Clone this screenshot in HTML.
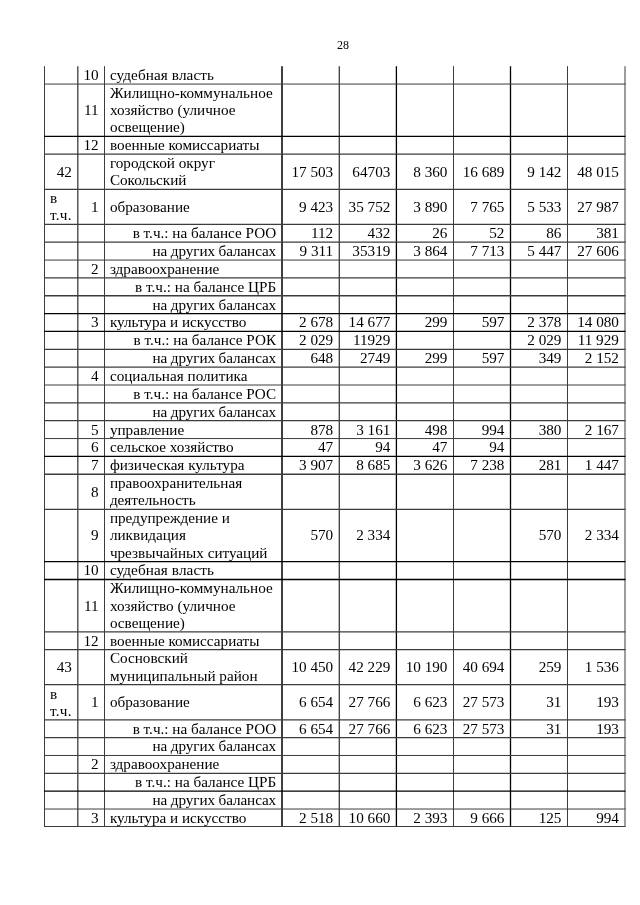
<!DOCTYPE html>
<html><head><meta charset="utf-8"><style>
html,body{margin:0;padding:0;background:#fff;}
body{width:640px;height:905px;position:relative;overflow:hidden;font-family:"Liberation Serif",serif;color:#000;}
#w{position:absolute;left:0;top:0;width:640px;height:905px;will-change:transform;}
.t{position:absolute;font-size:15.20px;line-height:17.225px;white-space:nowrap;}
.r{text-align:right;}
.a{letter-spacing:0.3px;}
svg{position:absolute;left:0;top:0;}
</style></head><body>
<div id="w">
<div class="t" style="left:337px;top:37.5px;font-size:12px;line-height:14px;">28</div>
<svg width="640" height="905" viewBox="0 0 640 905">
<line x1="44.5" y1="66.2" x2="44.5" y2="826.575" stroke="#3c3c3c" stroke-width="1.0"/>
<line x1="77.8" y1="66.2" x2="77.8" y2="826.575" stroke="#3c3c3c" stroke-width="1.3"/>
<line x1="104.5" y1="66.2" x2="104.5" y2="826.575" stroke="#3c3c3c" stroke-width="1.0"/>
<line x1="282.0" y1="66.2" x2="282.0" y2="826.575" stroke="#000" stroke-width="1.5"/>
<line x1="339.3" y1="66.2" x2="339.3" y2="826.575" stroke="#3c3c3c" stroke-width="1.3"/>
<line x1="396.4" y1="66.2" x2="396.4" y2="826.575" stroke="#000" stroke-width="1.3"/>
<line x1="453.5" y1="66.2" x2="453.5" y2="826.575" stroke="#3c3c3c" stroke-width="1.0"/>
<line x1="510.5" y1="66.2" x2="510.5" y2="826.575" stroke="#000" stroke-width="1.3"/>
<line x1="567.5" y1="66.2" x2="567.5" y2="826.575" stroke="#3c3c3c" stroke-width="1.0"/>
<line x1="625.0" y1="66.2" x2="625.0" y2="826.575" stroke="#3c3c3c" stroke-width="1.0"/>
<line x1="44.0" y1="84.050" x2="625.5" y2="84.050" stroke="#3c3c3c" stroke-width="1.0"/>
<line x1="44.0" y1="136.350" x2="625.5" y2="136.350" stroke="#000" stroke-width="1.3"/>
<line x1="44.0" y1="154.200" x2="625.5" y2="154.200" stroke="#3c3c3c" stroke-width="1.3"/>
<line x1="44.0" y1="189.275" x2="625.5" y2="189.275" stroke="#3c3c3c" stroke-width="1.3"/>
<line x1="44.0" y1="224.350" x2="625.5" y2="224.350" stroke="#3c3c3c" stroke-width="1.3"/>
<line x1="44.0" y1="242.200" x2="625.5" y2="242.200" stroke="#3c3c3c" stroke-width="1.3"/>
<line x1="44.0" y1="260.050" x2="625.5" y2="260.050" stroke="#3c3c3c" stroke-width="1.0"/>
<line x1="44.0" y1="277.900" x2="625.5" y2="277.900" stroke="#3c3c3c" stroke-width="1.3"/>
<line x1="44.0" y1="295.750" x2="625.5" y2="295.750" stroke="#3c3c3c" stroke-width="1.3"/>
<line x1="44.0" y1="313.600" x2="625.5" y2="313.600" stroke="#000" stroke-width="1.3"/>
<line x1="44.0" y1="331.450" x2="625.5" y2="331.450" stroke="#000" stroke-width="1.3"/>
<line x1="44.0" y1="349.300" x2="625.5" y2="349.300" stroke="#3c3c3c" stroke-width="1.3"/>
<line x1="44.0" y1="367.150" x2="625.5" y2="367.150" stroke="#3c3c3c" stroke-width="1.3"/>
<line x1="44.0" y1="385.000" x2="625.5" y2="385.000" stroke="#3c3c3c" stroke-width="1.0"/>
<line x1="44.0" y1="402.850" x2="625.5" y2="402.850" stroke="#3c3c3c" stroke-width="1.3"/>
<line x1="44.0" y1="420.700" x2="625.5" y2="420.700" stroke="#3c3c3c" stroke-width="1.3"/>
<line x1="44.0" y1="438.550" x2="625.5" y2="438.550" stroke="#3c3c3c" stroke-width="1.0"/>
<line x1="44.0" y1="456.400" x2="625.5" y2="456.400" stroke="#000" stroke-width="1.3"/>
<line x1="44.0" y1="474.250" x2="625.5" y2="474.250" stroke="#3c3c3c" stroke-width="1.3"/>
<line x1="44.0" y1="509.325" x2="625.5" y2="509.325" stroke="#3c3c3c" stroke-width="1.3"/>
<line x1="44.0" y1="561.625" x2="625.5" y2="561.625" stroke="#000" stroke-width="1.3"/>
<line x1="44.0" y1="579.475" x2="625.5" y2="579.475" stroke="#000" stroke-width="1.3"/>
<line x1="44.0" y1="631.775" x2="625.5" y2="631.775" stroke="#3c3c3c" stroke-width="1.3"/>
<line x1="44.0" y1="649.625" x2="625.5" y2="649.625" stroke="#3c3c3c" stroke-width="1.3"/>
<line x1="44.0" y1="684.700" x2="625.5" y2="684.700" stroke="#3c3c3c" stroke-width="1.3"/>
<line x1="44.0" y1="719.775" x2="625.5" y2="719.775" stroke="#3c3c3c" stroke-width="1.3"/>
<line x1="44.0" y1="737.625" x2="625.5" y2="737.625" stroke="#3c3c3c" stroke-width="1.3"/>
<line x1="44.0" y1="755.475" x2="625.5" y2="755.475" stroke="#3c3c3c" stroke-width="1.0"/>
<line x1="44.0" y1="773.325" x2="625.5" y2="773.325" stroke="#3c3c3c" stroke-width="1.3"/>
<line x1="44.0" y1="791.175" x2="625.5" y2="791.175" stroke="#000" stroke-width="1.3"/>
<line x1="44.0" y1="809.025" x2="625.5" y2="809.025" stroke="#3c3c3c" stroke-width="1.0"/>
<line x1="44.0" y1="826.500" x2="625.5" y2="826.500" stroke="#3c3c3c" stroke-width="1.0"/>
</svg>
<div class="t r" style="right:541.40px;top:66.01px">10</div>
<div class="t" style="left:109.90px;top:66.01px;letter-spacing:0.1px">судебная власть</div>
<div class="t r" style="right:541.40px;top:101.09px">11</div>
<div class="t" style="left:109.90px;top:83.86px">Жилищно-коммунальное<br>хозяйство (уличное<br>освещение)</div>
<div class="t r" style="right:541.40px;top:136.16px">12</div>
<div class="t" style="left:109.90px;top:136.16px">военные комиссариаты</div>
<div class="t r" style="right:568.10px;top:162.63px">42</div>
<div class="t" style="left:109.90px;top:154.01px">городской округ<br>Сокольский</div>
<div class="t r" style="right:306.80px;top:162.63px">17 503</div>
<div class="t r" style="right:249.70px;top:162.63px">64703</div>
<div class="t r" style="right:192.60px;top:162.63px">8 360</div>
<div class="t r" style="right:135.60px;top:162.63px">16 689</div>
<div class="t r" style="right:78.60px;top:162.63px">9 142</div>
<div class="t r" style="right:21.10px;top:162.63px">48 015</div>
<div class="t a" style="left:49.90px;top:189.09px">в<br>т.ч.</div>
<div class="t r" style="right:541.40px;top:197.70px">1</div>
<div class="t" style="left:109.90px;top:197.70px">образование</div>
<div class="t r" style="right:306.80px;top:197.70px">9 423</div>
<div class="t r" style="right:249.70px;top:197.70px">35 752</div>
<div class="t r" style="right:192.60px;top:197.70px">3 890</div>
<div class="t r" style="right:135.60px;top:197.70px">7 765</div>
<div class="t r" style="right:78.60px;top:197.70px">5 533</div>
<div class="t r" style="right:21.10px;top:197.70px">27 987</div>
<div class="t r" style="right:363.90px;top:224.16px">в т.ч.: на балансе РОО</div>
<div class="t r" style="right:306.80px;top:224.16px">112</div>
<div class="t r" style="right:249.70px;top:224.16px">432</div>
<div class="t r" style="right:192.60px;top:224.16px">26</div>
<div class="t r" style="right:135.60px;top:224.16px">52</div>
<div class="t r" style="right:78.60px;top:224.16px">86</div>
<div class="t r" style="right:21.10px;top:224.16px">381</div>
<div class="t r" style="right:363.90px;top:242.01px;letter-spacing:-0.1px">на других балансах</div>
<div class="t r" style="right:306.80px;top:242.01px">9 311</div>
<div class="t r" style="right:249.70px;top:242.01px">35319</div>
<div class="t r" style="right:192.60px;top:242.01px">3 864</div>
<div class="t r" style="right:135.60px;top:242.01px">7 713</div>
<div class="t r" style="right:78.60px;top:242.01px">5 447</div>
<div class="t r" style="right:21.10px;top:242.01px">27 606</div>
<div class="t r" style="right:541.40px;top:259.86px">2</div>
<div class="t" style="left:109.90px;top:259.86px">здравоохранение</div>
<div class="t r" style="right:363.90px;top:277.71px">в т.ч.: на балансе ЦРБ</div>
<div class="t r" style="right:363.90px;top:295.56px;letter-spacing:-0.1px">на других балансах</div>
<div class="t r" style="right:541.40px;top:313.41px">3</div>
<div class="t" style="left:109.90px;top:313.41px">культура и искусство</div>
<div class="t r" style="right:306.80px;top:313.41px">2 678</div>
<div class="t r" style="right:249.70px;top:313.41px">14 677</div>
<div class="t r" style="right:192.60px;top:313.41px">299</div>
<div class="t r" style="right:135.60px;top:313.41px">597</div>
<div class="t r" style="right:78.60px;top:313.41px">2 378</div>
<div class="t r" style="right:21.10px;top:313.41px">14 080</div>
<div class="t r" style="right:363.90px;top:331.26px">в т.ч.: на балансе РОК</div>
<div class="t r" style="right:306.80px;top:331.26px">2 029</div>
<div class="t r" style="right:249.70px;top:331.26px">11929</div>
<div class="t r" style="right:78.60px;top:331.26px">2 029</div>
<div class="t r" style="right:21.10px;top:331.26px">11 929</div>
<div class="t r" style="right:363.90px;top:349.11px;letter-spacing:-0.1px">на других балансах</div>
<div class="t r" style="right:306.80px;top:349.11px">648</div>
<div class="t r" style="right:249.70px;top:349.11px">2749</div>
<div class="t r" style="right:192.60px;top:349.11px">299</div>
<div class="t r" style="right:135.60px;top:349.11px">597</div>
<div class="t r" style="right:78.60px;top:349.11px">349</div>
<div class="t r" style="right:21.10px;top:349.11px">2 152</div>
<div class="t r" style="right:541.40px;top:366.96px">4</div>
<div class="t" style="left:109.90px;top:366.96px">социальная политика</div>
<div class="t r" style="right:363.90px;top:384.81px">в т.ч.: на балансе РОС</div>
<div class="t r" style="right:363.90px;top:402.66px;letter-spacing:-0.1px">на других балансах</div>
<div class="t r" style="right:541.40px;top:420.51px">5</div>
<div class="t" style="left:109.90px;top:420.51px">управление</div>
<div class="t r" style="right:306.80px;top:420.51px">878</div>
<div class="t r" style="right:249.70px;top:420.51px">3 161</div>
<div class="t r" style="right:192.60px;top:420.51px">498</div>
<div class="t r" style="right:135.60px;top:420.51px">994</div>
<div class="t r" style="right:78.60px;top:420.51px">380</div>
<div class="t r" style="right:21.10px;top:420.51px">2 167</div>
<div class="t r" style="right:541.40px;top:438.36px">6</div>
<div class="t" style="left:109.90px;top:438.36px">сельское хозяйство</div>
<div class="t r" style="right:306.80px;top:438.36px">47</div>
<div class="t r" style="right:249.70px;top:438.36px">94</div>
<div class="t r" style="right:192.60px;top:438.36px">47</div>
<div class="t r" style="right:135.60px;top:438.36px">94</div>
<div class="t r" style="right:541.40px;top:456.21px">7</div>
<div class="t" style="left:109.90px;top:456.21px">физическая культура</div>
<div class="t r" style="right:306.80px;top:456.21px">3 907</div>
<div class="t r" style="right:249.70px;top:456.21px">8 685</div>
<div class="t r" style="right:192.60px;top:456.21px">3 626</div>
<div class="t r" style="right:135.60px;top:456.21px">7 238</div>
<div class="t r" style="right:78.60px;top:456.21px">281</div>
<div class="t r" style="right:21.10px;top:456.21px">1 447</div>
<div class="t r" style="right:541.40px;top:482.68px">8</div>
<div class="t" style="left:109.90px;top:474.06px">правоохранительная<br>деятельность</div>
<div class="t r" style="right:541.40px;top:526.36px">9</div>
<div class="t" style="left:109.90px;top:509.14px">предупреждение и<br>ликвидация<br>чрезвычайных ситуаций</div>
<div class="t r" style="right:306.80px;top:526.36px">570</div>
<div class="t r" style="right:249.70px;top:526.36px">2 334</div>
<div class="t r" style="right:78.60px;top:526.36px">570</div>
<div class="t r" style="right:21.10px;top:526.36px">2 334</div>
<div class="t r" style="right:541.40px;top:561.44px">10</div>
<div class="t" style="left:109.90px;top:561.44px;letter-spacing:0.1px">судебная власть</div>
<div class="t r" style="right:541.40px;top:596.51px">11</div>
<div class="t" style="left:109.90px;top:579.29px">Жилищно-коммунальное<br>хозяйство (уличное<br>освещение)</div>
<div class="t r" style="right:541.40px;top:631.59px">12</div>
<div class="t" style="left:109.90px;top:631.59px">военные комиссариаты</div>
<div class="t r" style="right:568.10px;top:658.05px">43</div>
<div class="t" style="left:109.90px;top:649.44px">Сосновский<br>муниципальный район</div>
<div class="t r" style="right:306.80px;top:658.05px">10 450</div>
<div class="t r" style="right:249.70px;top:658.05px">42 229</div>
<div class="t r" style="right:192.60px;top:658.05px">10 190</div>
<div class="t r" style="right:135.60px;top:658.05px">40 694</div>
<div class="t r" style="right:78.60px;top:658.05px">259</div>
<div class="t r" style="right:21.10px;top:658.05px">1 536</div>
<div class="t a" style="left:49.90px;top:684.51px">в<br>т.ч.</div>
<div class="t r" style="right:541.40px;top:693.13px">1</div>
<div class="t" style="left:109.90px;top:693.13px">образование</div>
<div class="t r" style="right:306.80px;top:693.13px">6 654</div>
<div class="t r" style="right:249.70px;top:693.13px">27 766</div>
<div class="t r" style="right:192.60px;top:693.13px">6 623</div>
<div class="t r" style="right:135.60px;top:693.13px">27 573</div>
<div class="t r" style="right:78.60px;top:693.13px">31</div>
<div class="t r" style="right:21.10px;top:693.13px">193</div>
<div class="t r" style="right:363.90px;top:719.59px">в т.ч.: на балансе РОО</div>
<div class="t r" style="right:306.80px;top:719.59px">6 654</div>
<div class="t r" style="right:249.70px;top:719.59px">27 766</div>
<div class="t r" style="right:192.60px;top:719.59px">6 623</div>
<div class="t r" style="right:135.60px;top:719.59px">27 573</div>
<div class="t r" style="right:78.60px;top:719.59px">31</div>
<div class="t r" style="right:21.10px;top:719.59px">193</div>
<div class="t r" style="right:363.90px;top:737.44px;letter-spacing:-0.1px">на других балансах</div>
<div class="t r" style="right:541.40px;top:755.29px">2</div>
<div class="t" style="left:109.90px;top:755.29px">здравоохранение</div>
<div class="t r" style="right:363.90px;top:773.14px">в т.ч.: на балансе ЦРБ</div>
<div class="t r" style="right:363.90px;top:790.99px;letter-spacing:-0.1px">на других балансах</div>
<div class="t r" style="right:541.40px;top:808.84px">3</div>
<div class="t" style="left:109.90px;top:808.84px">культура и искусство</div>
<div class="t r" style="right:306.80px;top:808.84px">2 518</div>
<div class="t r" style="right:249.70px;top:808.84px">10 660</div>
<div class="t r" style="right:192.60px;top:808.84px">2 393</div>
<div class="t r" style="right:135.60px;top:808.84px">9 666</div>
<div class="t r" style="right:78.60px;top:808.84px">125</div>
<div class="t r" style="right:21.10px;top:808.84px">994</div>
</div></body></html>
